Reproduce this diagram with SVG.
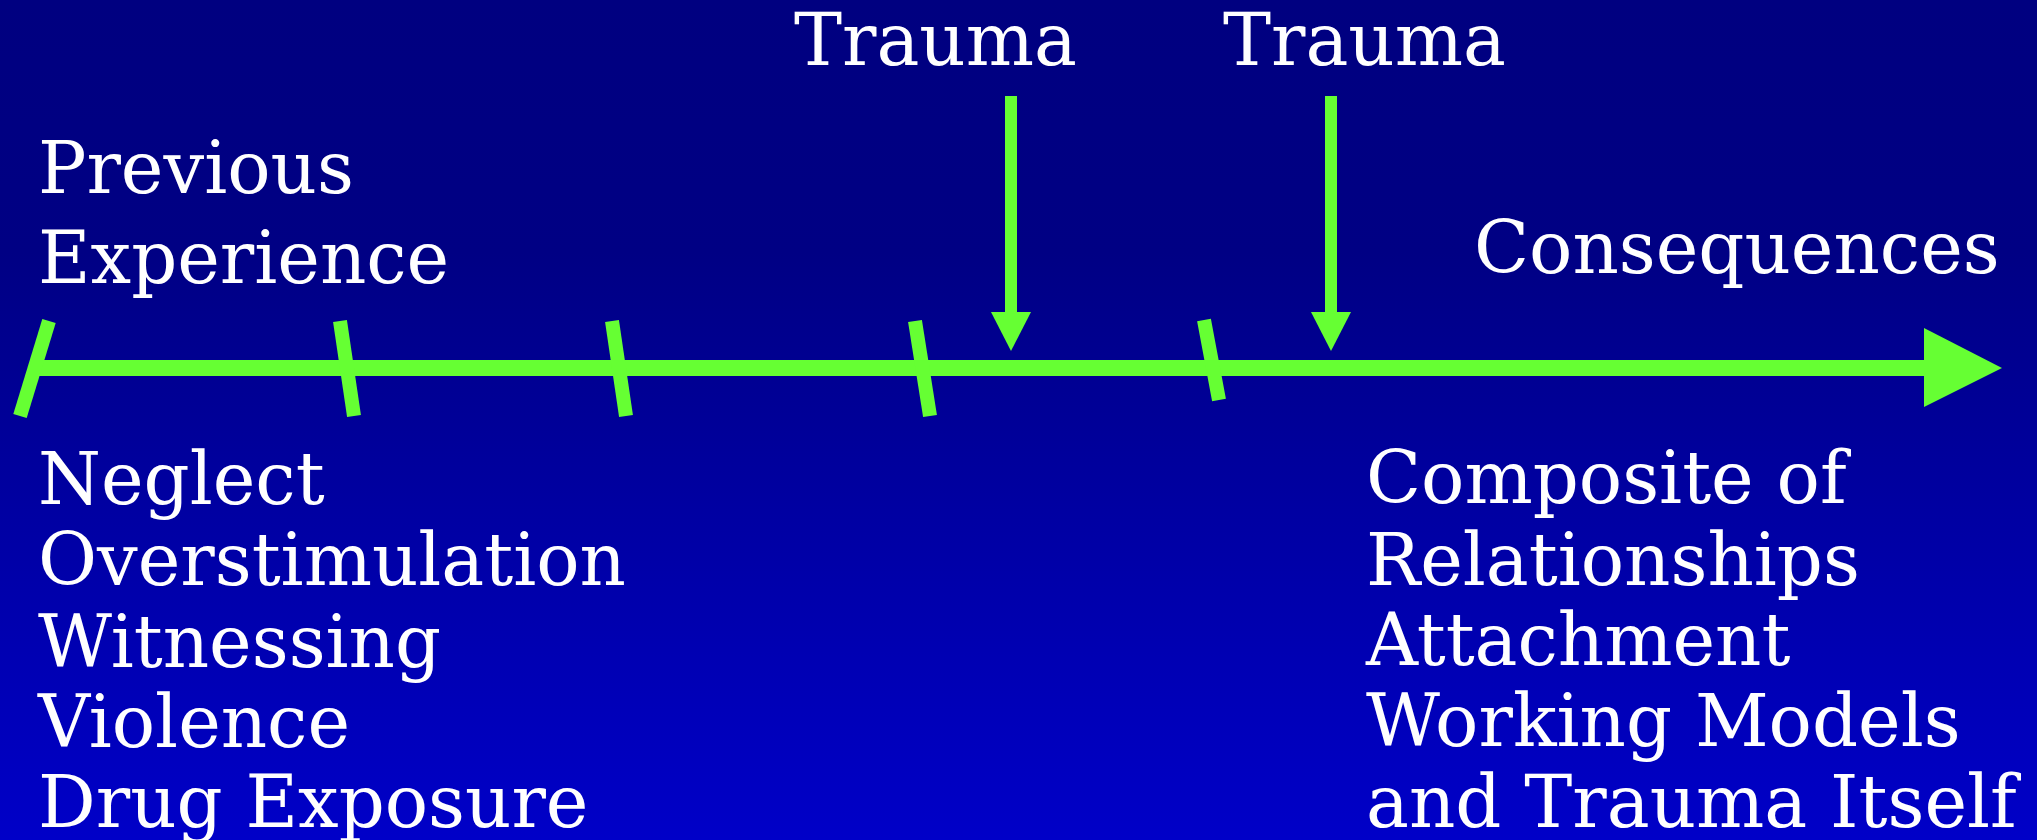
<svg xmlns="http://www.w3.org/2000/svg" width="2037" height="840" viewBox="0 0 2037 840">
<defs>
<linearGradient id="bg" x1="0" y1="0" x2="0" y2="1">
<stop offset="0" stop-color="#000080"/>
<stop offset="0.3" stop-color="#000084"/>
<stop offset="1" stop-color="#0000C8"/>
</linearGradient>
<style>
.t{font-family:"DejaVu Serif","Liberation Serif",serif;font-size:72px;fill:#ffffff;}
.g{stroke:#66FF33;fill:none;}
.gf{fill:#66FF33;stroke:none;}
</style>
</defs>
<rect x="0" y="0" width="2037" height="840" fill="url(#bg)"/>
<g id="connectors">
<line class="g" x1="38" y1="368" x2="1930" y2="368" stroke-width="16"/>
<polygon class="gf" points="1924,328 2002,368 1924,407"/>
<line class="g" x1="49" y1="321" x2="20" y2="416" stroke-width="14"/>
<line class="g" x1="340" y1="321" x2="354" y2="416" stroke-width="14"/>
<line class="g" x1="612" y1="321" x2="626" y2="416" stroke-width="14"/>
<line class="g" x1="915" y1="321" x2="930" y2="416" stroke-width="14"/>
<line class="g" x1="1204" y1="320" x2="1219" y2="400" stroke-width="14"/>
<line class="g" x1="1011" y1="96" x2="1011" y2="315" stroke-width="12"/>
<polygon class="gf" points="991,312 1031,312 1011,351"/>
<line class="g" x1="1331" y1="96" x2="1331" y2="315" stroke-width="12"/>
<polygon class="gf" points="1311,312 1351,312 1331,351"/>
</g>
<g id="trauma1"><text class="t" x="794" y="65">Trauma</text></g>
<g id="trauma2"><text class="t" x="1223" y="65">Trauma</text></g>
<g id="previous"><text class="t" x="38" y="193">Previous</text><text class="t" x="38" y="283">Experience</text></g>
<g id="consequences"><text class="t" x="1474" y="273">Consequences</text></g>
<g id="causes">
<text class="t" x="38" y="504">Neglect</text>
<text class="t" x="38" y="585">Overstimulation</text>
<text class="t" x="38" y="667">Witnessing</text>
<text class="t" x="38" y="747">Violence</text>
<text class="t" x="38" y="827">Drug Exposure</text>
</g>
<g id="effects">
<text class="t" x="1366" y="503">Composite of</text>
<text class="t" x="1366" y="585">Relationships</text>
<text class="t" x="1366" y="665">Attachment</text>
<text class="t" x="1366" y="746">Working Models</text>
<text class="t" x="1366" y="827">and Trauma Itself</text>
</g>
</svg>
